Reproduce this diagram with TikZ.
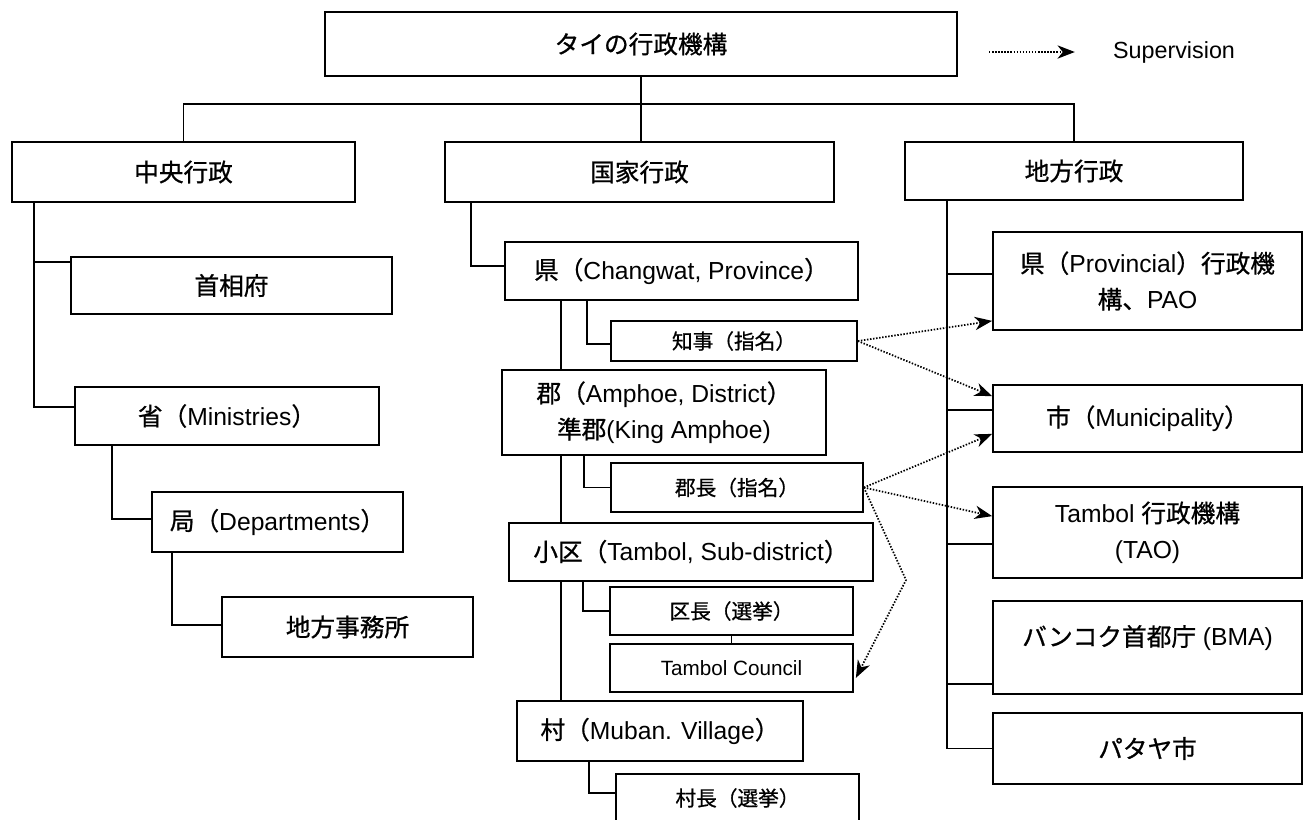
\documentclass[tikz,border=0pt]{standalone}
\usepackage{fontspec}
\setmainfont{Liberation Sans}
\newfontfamily\jp[FakeBold=0.8]{Noto Sans CJK JP}
\newcommand\J[1]{{\jp #1}}
\usetikzlibrary{arrows.meta,calc}
\begin{document}
\begin{tikzpicture}[x=0.75pt,y=-0.75pt,
  line width=1.2pt,
  box/.style={draw, line width=1.3pt, inner sep=0pt, align=center, font=\fontsize{18.5}{27}\selectfont},
  sbox/.style={box, font=\fontsize{15.5}{20}\selectfont},
  sz/.style 2 args={minimum width=#1*0.75pt, minimum height=#2*0.75pt},
  link/.style={line width=1.3pt},
  sup/.style={line width=1.3pt, dash pattern=on 1.1pt off 1.2pt, -{Stealth[length=13pt,width=10pt,inset=4pt]}}]
\useasboundingbox (0,0) rectangle (1306,819);

% top row
\node[box,sz={632}{64}] (top) at (641,44) {\J{タイの行政機構}};
\node[box,sz={343}{60}] (cen) at (183.5,172) {\J{中央行政}};
\node[box,sz={389}{60}] (nat) at (639.5,172) {\J{国家行政}};
\node[box,sz={338}{58}] (loc) at (1074,171) {\J{地方行政}};

% legend
\coordinate (lg1) at (989,52);
\node[font=\fontsize{17.5}{20}\selectfont] (legtxt) at (1174,52) {Supervision};
\draw[sup] (lg1) -- ($(legtxt.west)+(-33,0)$);

% left column
\node[box,sz={321}{57}] (pm) at (231.5,285.5) {\J{首相府}};
\node[box,sz={304}{58}] (min) at (227,416) {\J{省（}Ministries\J{）}};
\node[box,sz={251}{60}] (dep) at (277.5,522) {\J{局（}Departments\J{）}};
\node[box,sz={251}{60}] (reg) at (347.5,627) {\J{地方事務所}};

% middle column
\node[box,sz={353}{58}] (prov) at (681.5,271) {\J{県（}Changwat, Province\J{）}};
\node[sbox,sz={246}{40}] (gov) at (734,341) {\J{知事（指名）}};
\node[box,sz={324}{85}] (dist) at (664,412.5) {\J{郡（}Amphoe, District\J{）}\\\J{準郡}(King Amphoe)};
\node[sbox,sz={252}{49}] (dch) at (737,487.5) {\J{郡長（指名）}};
\node[box,sz={364}{58}] (sub) at (691,552) {\J{小区（}Tambol, Sub-district\J{）}};
\node[sbox,sz={243}{48}] (kc) at (731.5,611) {\J{区長（選挙）}};
\node[sbox,sz={243}{48}] (tc) at (731.5,668) {Tambol Council};
\node[box,sz={286}{60}] (vil) at (660,731) {\J{村（}Muban. Village\J{）}};
\node[sbox,sz={243}{48}] (vh) at (737.5,798) {\J{村長（選挙）}};

% right column
\node[box,sz={309}{98}] (pao) at (1147.5,281) {\J{県（}Provincial\J{）行政機}\\\J{構、}PAO};
\node[box,sz={309}{67}] (mun) at (1147.5,418.5) {\J{市（}Municipality\J{）}};
\node[box,sz={309}{91}] (tao) at (1147.5,532.5) {Tambol \J{行政機構}\\(TAO)};
\node[box,sz={309}{93}] (bma) at (1147.5,647.5) {};
\node[font=\fontsize{18.5}{27}\selectfont] (bmat) at (1147.5,638) {\J{バンコク首都庁} (BMA)};
\node[box,sz={309}{71}] (pat) at (1147.5,748.5) {\J{パタヤ市}};

% top connectors
\coordinate (hb) at (641,104);
\draw[link] (top.south) -- (top.south |- nat.north);
\draw[link] (cen.north) |- (hb) -| (loc.north);

% left trunk
\coordinate (lt) at (34,0);
\draw[link] (lt |- cen.south) |- ($(pm.north west)+(0,6)$);
\draw[link] (lt |- cen.south) |- ($(min.north west)+(0,21)$);
\draw[link] ($(min.south west)+(38,0)$) |- ($(dep.west)+(0,-3)$);
\draw[link] ($(dep.south west)+(21,0)$) |- ($(reg.west)+(0,-2)$);

% middle trunk
\coordinate (mt) at (561,0);
\draw[link] ($(nat.south west)+(27,0)$) |- ($(prov.west)+(0,-5)$);
\draw[link] (mt |- prov.south) -- (mt |- dist.north);
\draw[link] (mt |- dist.south) -- (mt |- sub.north);
\draw[link] (mt |- sub.south) -- (mt |- vil.north);
\draw[link] ($(prov.south west)+(83,0)$) |- ($(gov.west)+(0,3)$);
\draw[link] ($(dist.south west)+(83,0)$) |- (dch.west);
\draw[link] ($(sub.south west)+(75,0)$) |- (kc.west);
\draw[link] (kc.south) -- (tc.north);
\draw[link] ($(vil.south west)+(73,0)$) |- ($(vh.west)+(0,-5)$);

% right trunk
\coordinate (rt) at (947,0);
\draw[link] (rt |- loc.south) |- ($(pao.west)+(0,-7)$);
\draw[link] (rt |- loc.south) |- ($(mun.west)+(0,-8.5)$);
\draw[link] (rt |- loc.south) |- ($(tao.west)+(0,11.5)$);
\draw[link] (rt |- loc.south) |- ($(bma.west)+(0,36.5)$);
\draw[link] (rt |- loc.south) |- (pat.west);

% supervision arrows
\coordinate (bend) at (906,580);
\draw[sup] (gov.east) -- ($(pao.south west)+(0,-10)$);
\draw[sup] (gov.east) -- ($(mun.north west)+(0,12)$);
\draw[sup] (dch.east) -- ($(mun.south west)+(0,-19)$);
\draw[sup] (dch.east) -- ($(tao.north west)+(0,30)$);
\draw[sup] (dch.east) -- (bend) -- ($(tc.south east)+(2,-15)$);
\end{tikzpicture}
\end{document}
